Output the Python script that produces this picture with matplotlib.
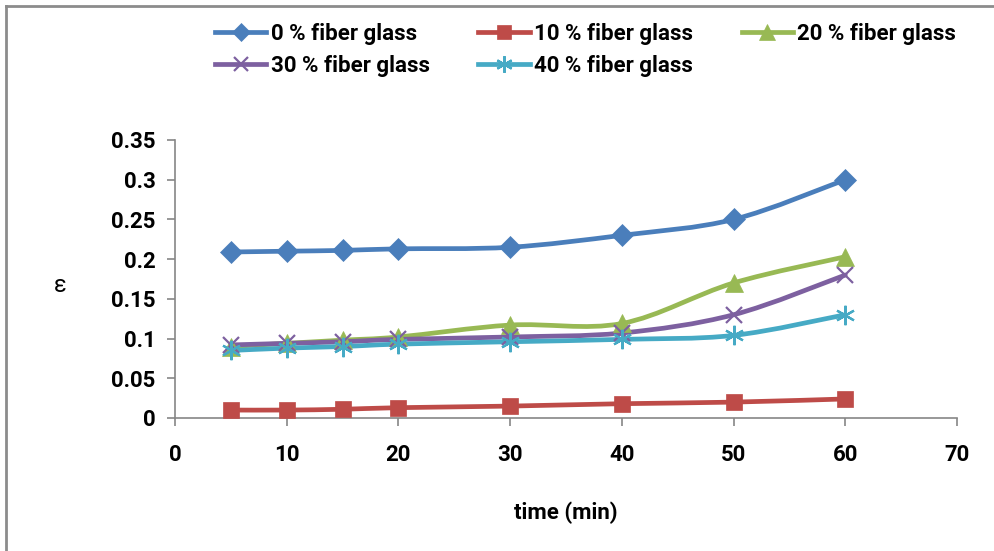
import numpy as np
import matplotlib
matplotlib.use("Agg")
import matplotlib.pyplot as plt
from matplotlib.path import Path
from matplotlib.patches import PathPatch
from matplotlib.lines import Line2D

plt.rcParams['font.family'] = ['Roboto', 'DejaVu Sans']

time_min = [5, 10, 15, 20, 30, 40, 50, 60]
eps_0 = [0.209, 0.210, 0.211, 0.213, 0.215, 0.230, 0.250, 0.300]
eps_10 = [0.010, 0.010, 0.011, 0.013, 0.015, 0.018, 0.020, 0.024]
eps_20 = [0.090, 0.094, 0.098, 0.102, 0.117, 0.119, 0.170, 0.203]
eps_30 = [0.092, 0.094, 0.096, 0.099, 0.102, 0.107, 0.130, 0.180]
eps_40 = [0.085, 0.088, 0.090, 0.093, 0.096, 0.099, 0.104, 0.130]
labels = ['0 % fiber glass', '10 % fiber glass', '20 % fiber glass',
          '30 % fiber glass', '40 % fiber glass']
x_ticks = [0, 10, 20, 30, 40, 50, 60, 70]
y_ticks = [0, 0.05, 0.1, 0.15, 0.2, 0.25, 0.3, 0.35]
y_tick_labels = ['0', '0.05', '0.1', '0.15', '0.2', '0.25', '0.3', '0.35']

series = [eps_0, eps_10, eps_20, eps_30, eps_40]
colors = ['#4A7EBB', '#BE4B48', '#98B954', '#7D60A0', '#46AAC5']
markers = ['D', 's', '^', 'x', (6, 2, 0)]
msizes = [11, 12, 13, 12, 14]
FS = 16

fig = plt.figure(figsize=(9.94, 5.51), dpi=100)
ax = fig.add_axes([175/994, 1 - 418/551, (957-175)/994, (418-140)/551])


def smooth_path(xs, ys):
    P = np.column_stack([xs, ys]).astype(float)
    n = len(P)
    verts = [P[0]]
    codes = [Path.MOVETO]
    for i in range(n - 1):
        p0 = P[i - 1] if i > 0 else P[i]
        p1 = P[i]
        p2 = P[i + 1]
        p3 = P[i + 2] if i + 2 < n else P[i + 1]
        c1 = p1 + (p2 - p0) / 6.0
        c2 = p2 - (p3 - p1) / 6.0
        verts += [c1, c2, p2]
        codes += [Path.CURVE4] * 3
    return Path(verts, codes)


handles = []
for ys, c, m, ms, lab in zip(series, colors, markers, msizes, labels):
    patch = PathPatch(smooth_path(time_min, ys), facecolor='none', edgecolor=c,
                      lw=3.4, capstyle='round', joinstyle='round', zorder=2)
    ax.add_patch(patch)
    mew = 1.6 if m in ('x',) or isinstance(m, tuple) else 0.5
    ax.plot(time_min, ys, linestyle='none', marker=m, markersize=ms,
            color=c, markeredgecolor=c, markeredgewidth=mew, zorder=3)
    handles.append(Line2D([], [], color=c, lw=3.4, marker=m, markersize=ms * 0.85,
                          markeredgecolor=c, markeredgewidth=mew, label=lab))

ax.set_xlim(0, 70)
ax.set_ylim(0, 0.35)
ax.set_xticks(x_ticks)
ax.set_yticks(y_ticks)
ax.set_yticklabels(y_tick_labels)
for s in ['top', 'right']:
    ax.spines[s].set_visible(False)
for s in ['left', 'bottom']:
    ax.spines[s].set_color('#868686')
    ax.spines[s].set_linewidth(1.2)
ax.tick_params(axis='both', direction='out', length=6, width=1.2, color='#868686',
               labelsize=FS, labelcolor='black')
ax.tick_params(axis='x', pad=13)
ax.tick_params(axis='y', pad=8)
for t in ax.get_xticklabels() + ax.get_yticklabels():
    t.set_fontweight('bold')

ax.set_xlabel('time (min)', fontsize=FS, fontweight='bold')
ax.xaxis.set_label_coords(0.5, -0.30)
ax.set_ylabel('ε', fontsize=17, rotation=0, ha='center', va='center')
ax.yaxis.set_label_coords(-0.147, 0.478)

order = [0, 3, 1, 4, 2]
leg = fig.legend([handles[i] for i in order], [labels[i] for i in order],
                 ncol=3, loc='upper left', bbox_to_anchor=(195/994, 1 - 3/551),
                 frameon=False, handlelength=2.3, handletextpad=0.2,
                 columnspacing=2.2, labelspacing=0.45,
                 prop={'size': FS, 'weight': 'bold'})

fig.add_artist(Line2D([6/994, 1.0], [1 - 6/551, 1 - 6/551], color='#8C8C8C', lw=2,
                      transform=fig.transFigure))
fig.add_artist(Line2D([6/994, 6/994], [0.0, 1 - 6/551], color='#8C8C8C', lw=2,
                      transform=fig.transFigure))

fig.savefig('out.png', dpi=100)
